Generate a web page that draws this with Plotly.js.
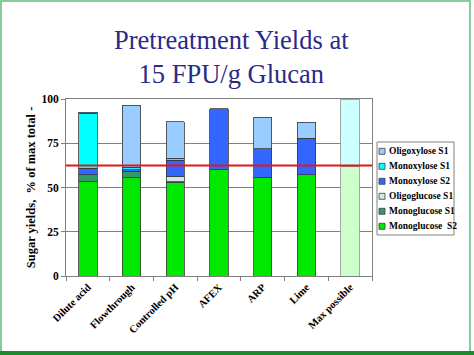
<!DOCTYPE html>
<html>
<head>
<meta charset="utf-8">
<script src="https://cdn.plot.ly/plotly-3.0.1.min.js"></script>
<style>
html,body{margin:0;padding:0;background:#fff;overflow:hidden;}
#wrap{position:relative;width:474px;height:355px;}
#chart{position:absolute;left:0;top:0;width:474px;height:355px;}
#frame{position:absolute;left:0;top:0;width:467px;height:349px;border-left:2px solid #86cc94;border-top:2px solid #86cc94;border-right:2px solid #86cc94;pointer-events:none;}
#bottom{position:absolute;left:0;top:351px;width:474px;height:4px;background:#1d8a2c;pointer-events:none;}
</style>
</head>
<body>
<div id="wrap">
<div id="chart"></div>
<div id="frame"></div>
<div id="bottom"></div>
</div>
<script>
// ---- data ----
const categories = ['Dilute acid','Flowthrough','Controlled pH','AFEX','ARP','Lime','Max possible'];
const monoglucoseS2 = [53.3, 55.5, 52.7, 59.9, 55.8, 57.1, 62.0];
const monoglucoseS1 = [3.8, 3.8, 0.5, null, null, null, null];
const oligoglucoseS1 = [null, null, 3.3, null, null, null, null];
const monoxyloseS2 = [3.7, 0.6, 9.0, 34.5, 16.0, 20.7, null];
const monoxyloseS1 = [31.2, 1.5, 1.0, null, null, null, 38.0];
const oligoxyloseS1 = [0.4, 35.2, 20.7, null, 17.9, 9.0, null];
const referenceLine = 62.5;

const seriesNames = ['Monoglucose  S2','Monoglucose S1','Oligoglucose S1','Monoxylose S2','Monoxylose S1','Oligoxylose S1'];
const seriesValues = [monoglucoseS2, monoglucoseS1, oligoglucoseS1, monoxyloseS2, monoxyloseS1, oligoxyloseS1];
const seriesColors = ['#00e800','#339966','#cce8e8','#3366ff','#00ffff','#99ccff'];
const maxColors = {0:'#ccffcc', 4:'#ccffff'}; // pale colours used on the "Max possible" bar

const serif = 'Times New Roman, Liberation Serif, serif';

const traces = seriesValues.map((vals, i) => ({
  type: 'bar',
  name: seriesNames[i],
  x: categories,
  y: vals,
  marker: {
    color: categories.map((c, j) => (j === categories.length - 1 && maxColors[i]) ? maxColors[i] : seriesColors[i]),
    line: {color: categories.map((c, j) => j === categories.length - 1 ? '#909090' : '#3a3a3a'), width: 0.8}
  },
  showlegend: false,
  hoverinfo: 'skip'
}));

// plot area geometry helpers (pixels -> paper)
const L = 66, R = 372, T = 99, B = 276;
const W = 474, H = 355;
const px2x = p => (p - L) / (R - L);
const px2y = p => (B - p) / (B - T);

const shapes = [{
  type: 'line', xref: 'paper', yref: 'y', x0: 0, x1: 1, y0: referenceLine, y1: referenceLine,
  line: {color: '#e01818', width: 2}
}, {
  type: 'rect', xref: 'paper', yref: 'paper',
  x0: px2x(377), x1: px2x(454), y0: px2y(235), y1: px2y(142),
  line: {color: '#808080', width: 1}, fillcolor: 'rgba(0,0,0,0)'
}];
const annotations = [];
// legend: top entry is the last (top) series
for (let k = 0; k < seriesNames.length; k++) {
  const i = seriesNames.length - 1 - k;
  const cy = 151.3 + 15 * k;
  shapes.push({
    type: 'rect', xref: 'paper', yref: 'paper',
    x0: px2x(379), x1: px2x(385), y0: px2y(cy + 3), y1: px2y(cy - 3),
    fillcolor: seriesColors[i], line: {color: '#404040', width: 0.8}
  });
  annotations.push({
    xref: 'paper', yref: 'paper', x: px2x(387), y: px2y(cy),
    xanchor: 'left', yanchor: 'middle', showarrow: false,
    text: seriesNames[i].replace(/ /g, '&nbsp;'),
    font: {family: serif, size: 9.5, color: '#000', weight: 'bold'}
  });
}

const layout = {
  width: W, height: H,
  margin: {l: L, r: W - R, t: T, b: H - B},
  paper_bgcolor: 'rgba(0,0,0,0)',
  plot_bgcolor: '#fff',
  barmode: 'stack',
  bargap: 0.58,
  showlegend: false,
  title: {
    text: 'Pretreatment Yields at<br>15 FPU/g Glucan',
    font: {family: serif, size: 26.5, color: '#2b2b85'},
    xref: 'container', yref: 'container', x: 0.488, xanchor: 'center',
    y: 1 - 49 / H, yanchor: 'top'
  },
  xaxis: {
    type: 'category',
    tickangle: -45,
    ticks: 'outside', ticklen: 4, tickcolor: '#808080',
    tickson: 'boundaries',
    showline: true, linecolor: '#808080', linewidth: 1, mirror: true,
    showgrid: false,
    tickfont: {family: serif, size: 10.5, color: '#000', weight: 'bold'}
  },
  yaxis: {
    range: [0, 100], tickvals: [0, 25, 50, 75, 100],
    ticks: 'outside', ticklen: 4, tickcolor: '#808080',
    showline: true, linecolor: '#808080', linewidth: 1, mirror: true,
    showgrid: true, gridcolor: '#808080', gridwidth: 1,
    zeroline: false,
    tickfont: {family: serif, size: 11.5, color: '#000', weight: 'bold'},
    title: {text: 'Sugar yields,&nbsp;&nbsp;% of max total -', standoff: 3,
            font: {family: serif, size: 12.5, color: '#000', weight: 'bold'}}
  },
  shapes: shapes,
  annotations: annotations
};

Plotly.newPlot('chart', traces, layout, {displayModeBar: false, staticPlot: true});
</script>
</body>
</html>
